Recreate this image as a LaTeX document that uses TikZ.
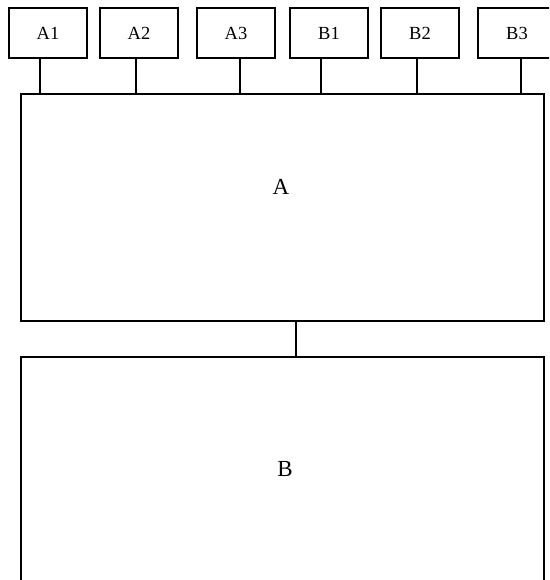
\documentclass[tikz,border=0pt]{standalone}
\usepackage{fontspec}
\setmainfont{Liberation Serif}
\begin{document}
\begin{tikzpicture}[x=1pt,y=-1pt,
  smallbox/.style={draw, line width=2pt, minimum width=78pt, minimum height=50pt, inner sep=0pt, font=\fontsize{18.5}{20}\selectfont},
  bigbox/.style={draw, line width=2pt, inner sep=0pt},
  biglabel/.style={font=\fontsize{23}{25}\selectfont, inner sep=0pt},
  link/.style={line width=2pt}]
\useasboundingbox (0,0) rectangle (549,580);
\clip (0,0) rectangle (549,580);
\fill[white] (0,0) rectangle (549,580);
% small boxes
\node[smallbox] (a1) at (48,33) {A1};
\node[smallbox] (a2) at (139,33) {A2};
\node[smallbox] (a3) at (236,33) {A3};
\node[smallbox] (b1) at (329,33) {B1};
\node[smallbox] (b2) at (420,33) {B2};
\node[smallbox] (b3) at (517,33) {B3};
% big boxes
\draw[bigbox] (21,94) rectangle (544,321);
\node[biglabel] (A) at (281,187) {A};
\draw[bigbox] (21,357) rectangle (544,600);
\node[biglabel] (B) at (285,469) {B};
\coordinate (abot) at (296,321);
\coordinate (btop) at (296,357);
% stems
\draw[link] (40,58) -- (40,94);
\draw[link] (136,58) -- (136,94);
\draw[link] (240,58) -- (240,94);
\draw[link] (321,58) -- (321,94);
\draw[link] (417,58) -- (417,94);
\draw[link] (521,58) -- (521,94);
\draw[link] (abot) -- (btop);
\end{tikzpicture}
\end{document}
